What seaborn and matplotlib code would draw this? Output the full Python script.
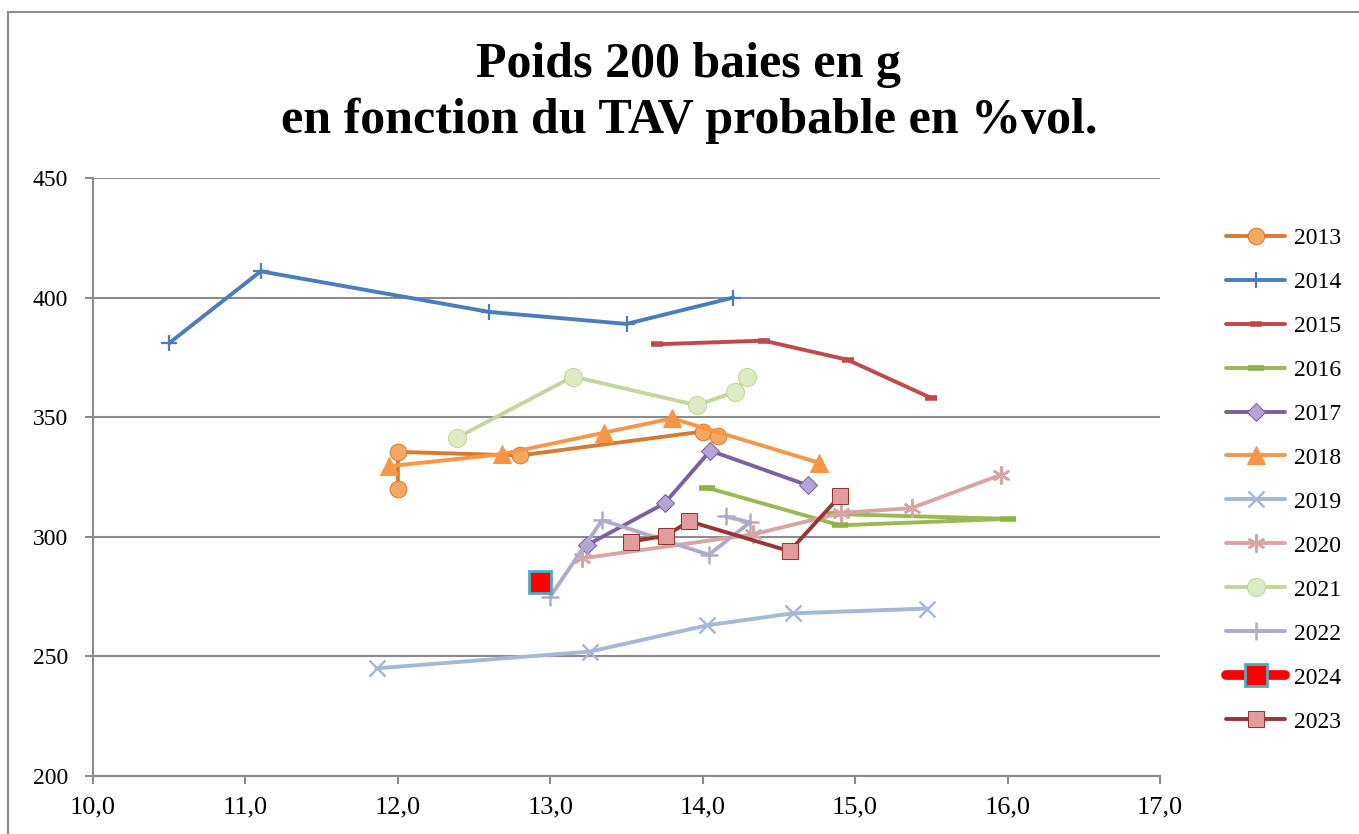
import matplotlib
matplotlib.use("Agg")
import matplotlib.pyplot as plt
import matplotlib.patches as mpatches
from matplotlib.lines import Line2D
import pandas as pd
import seaborn as sns

# TAV probable (%vol) and weight of 200 berries (g), per vintage
x_2013 = [12.0, 12.0, 12.8, 14.0, 14.1]
y_2013 = [320, 335.5, 334, 344, 342]
x_2014 = [10.5, 11.1, 12.6, 13.5, 14.2]
y_2014 = [381, 411, 394, 389, 400]
x_2015 = [13.7, 14.4, 14.95, 15.5]
y_2015 = [380.5, 382, 374, 358]
x_2016 = [14.03, 14.9, 16.0, 14.87]
y_2016 = [320.5, 304.8, 307.5, 309.5]
x_2017 = [13.24, 13.75, 14.05, 14.69]
y_2017 = [296.5, 314, 336, 321.5]
x_2018 = [11.94, 12.68, 13.35, 13.8, 14.76]
y_2018 = [329.5, 334.5, 343.5, 349.5, 331]
x_2019 = [11.86, 13.26, 14.03, 14.59, 15.47]
y_2019 = [245, 252, 263, 268, 270]
x_2020 = [13.21, 14.33, 14.91, 15.37, 15.96]
y_2020 = [291, 301, 310, 312, 326]
x_2021 = [12.39, 13.15, 13.96, 14.21, 14.29]
y_2021 = [341.5, 367, 355, 360.5, 367]
x_2022 = [13.0, 13.34, 14.04, 14.31, 14.15]
y_2022 = [275, 307, 292.5, 306, 308.5]
x_2024 = [12.93]
y_2024 = [281]
x_2023 = [13.53, 13.76, 13.91, 14.57, 14.9]
y_2023 = [298, 300.5, 306.5, 294, 317]

years = ["2013", "2014", "2015", "2016", "2017", "2018", "2019", "2020",
         "2021", "2022", "2024", "2023"]
xs = [x_2013, x_2014, x_2015, x_2016, x_2017, x_2018, x_2019, x_2020,
      x_2021, x_2022, x_2024, x_2023]
ys = [y_2013, y_2014, y_2015, y_2016, y_2017, y_2018, y_2019, y_2020,
      y_2021, y_2022, y_2024, y_2023]

x_ticks = [10, 11, 12, 13, 14, 15, 16, 17]
x_tick_labels = ["10,0", "11,0", "12,0", "13,0", "14,0", "15,0", "16,0", "17,0"]
y_ticks = [200, 250, 300, 350, 400, 450]

# line colour, marker, marker size, face, edge
styles = {
    "2013": dict(color="#D47C34", marker="o", markersize=12, markerfacecolor="#F6A760", markeredgecolor="#D47C34"),
    "2014": dict(color="#4A7EBB", marker="+", markersize=12, markeredgewidth=1.6, markeredgecolor="#4A7EBB"),
    "2015": dict(color="#BE4B48", marker="_", markersize=9, markeredgewidth=4, markeredgecolor="#BE4B48"),
    "2016": dict(color="#98B954", marker="_", markersize=12, markeredgewidth=4, markeredgecolor="#8DB345"),
    "2017": dict(color="#7D60A0", marker="D", markersize=9, markerfacecolor="#B6A3D8", markeredgecolor="#7D60A0"),
    "2018": dict(color="#F79646", marker="^", markersize=13, markerfacecolor="#F79646", markeredgecolor="#F79646"),
    "2019": dict(color="#A5B8DA", marker="x", markersize=12, markeredgewidth=1.8, markeredgecolor="#A5B8DA"),
    "2020": dict(color="#D9A5A4", marker=(6, 2, 0), markersize=13, markeredgewidth=1.8, markeredgecolor="#D9A5A4"),
    "2021": dict(color="#C3D69B", marker="o", markersize=13, markerfacecolor="#DCEBC3", markeredgecolor="#C3D69B"),
    "2022": dict(color="#B3A9C8", marker="+", markersize=13, markeredgewidth=1.8, markeredgecolor="#B3A9C8"),
    "2024": dict(color="#FF0000", marker="s", markersize=16, markerfacecolor="#FF0000", markeredgecolor="#4BACC6", markeredgewidth=2),
    "2023": dict(color="#953735", marker="s", markersize=12, markerfacecolor="#E39C9B", markeredgecolor="#953735"),
}

sns.set_theme(style="white")
plt.rcParams["font.family"] = ["Liberation Serif", "DejaVu Serif"]
plt.rcParams["text.color"] = "black"

fig = plt.figure(figsize=(13.59, 8.34), dpi=100)
ax = fig.add_axes([93 / 1359, 1 - 776 / 834, (1160 - 93) / 1359, (776 - 178) / 834])

for yr, xv, yv in zip(years, xs, ys):
    df = pd.DataFrame({"TAV": xv, "Poids": yv})
    sns.lineplot(data=df, x="TAV", y="Poids", ax=ax, sort=False, estimator=None,
                 linewidth=2.8, label=yr, legend=False, **styles[yr])

ax.set_xlim(10, 17)
ax.set_ylim(200, 450)
ax.set_xticks(x_ticks)
ax.set_xticklabels(x_tick_labels)
ax.set_yticks(y_ticks)
ax.set_xlabel("")
ax.set_ylabel("")
ax.yaxis.grid(True, color="#8C8C8C", linewidth=1.5)
ax.set_axisbelow(True)
for s in ["top", "right"]:
    ax.spines[s].set_visible(False)
for s in ["left", "bottom"]:
    ax.spines[s].set_color("#8C8C8C")
    ax.spines[s].set_linewidth(1.5)
ax.tick_params(axis="y", direction="out", length=6, width=1.5, color="#8C8C8C",
               pad=12, labelsize=17, left=True, labelcolor="black")
ax.tick_params(axis="x", direction="out", length=6, width=1.5, color="#8C8C8C",
               pad=9, labelsize=19, bottom=True, labelcolor="black")

fig.text(689 / 1359, 1 - 65 / 834, "Poids 200 baies en g", ha="center", va="center",
         fontsize=36, fontweight="bold", color="black")
fig.text(689 / 1359, 1 - 121 / 834, "en fonction du TAV probable en %vol.", ha="center",
         va="center", fontsize=36, fontweight="bold", color="black")

# outer chart frame
fig.patches.append(mpatches.Rectangle((8 / 1359, -0.05), 1.1, 1.05 - 12 / 834,
                                      transform=fig.transFigure, fill=False,
                                      edgecolor="#8C8C8C", linewidth=1.5))

handles, labels = ax.get_legend_handles_labels()
handles = [Line2D([], [], linewidth=7, solid_capstyle="round", **styles["2024"])
           if lb == "2024" else h for h, lb in zip(handles, labels)]
fig.legend(handles, labels, loc="upper left", bbox_to_anchor=(1217 / 1359, 1 - 218 / 834),
           frameon=False, fontsize=17, handlelength=2.5, handletextpad=0.35,
           labelspacing=0.95, borderaxespad=0)

fig.savefig("out.png", dpi=100)
